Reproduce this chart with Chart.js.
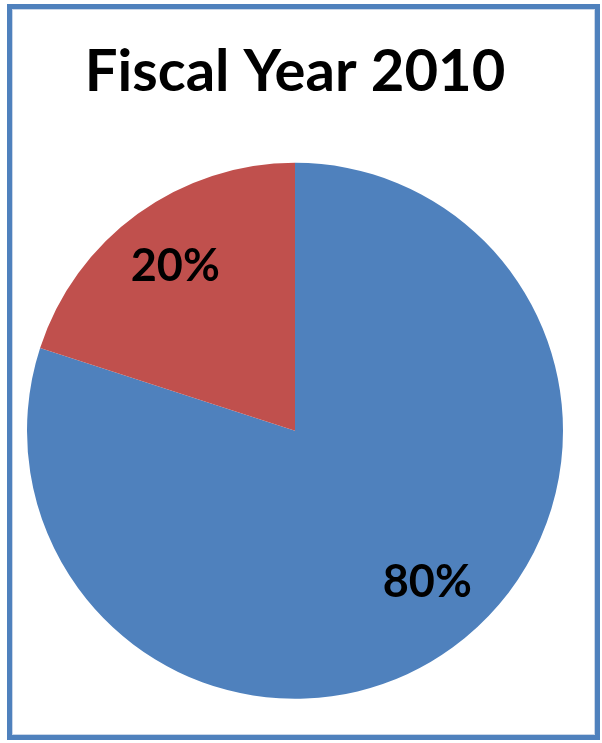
<!DOCTYPE html>
<html>
<head>
<meta charset="utf-8">
<script src="https://cdn.jsdelivr.net/npm/chart.js@4/dist/chart.umd.min.js"></script>
<style>
  html, body { margin: 0; padding: 0; background: #ffffff; }
  #wrap { position: relative; width: 602px; height: 743px; }
  #frame { position: absolute; left: 7px; top: 4px; width: 583px; height: 726px; border: 5px solid #4F81BD; box-shadow: inset 0 0 0 1px #c9d6e8; pointer-events: none; }
  canvas { position: absolute; left: 0; top: 0; }
</style>
</head>
<body>
<div id="wrap">
  <canvas id="c" width="602" height="743"></canvas>
  <div id="frame"></div>
</div>
<script>
const titleText = "Fiscal Year 2010";
const categories = ["Share A", "Share B"];
const values = [80, 20];
const sliceColors = ["#4F81BD", "#C0504D"];

// label placement tweaks (styling only): radial factor and angle shift in radians
const labelRadius = [0.75, 0.76];
const labelAngleShift = [-0.09, 0.0];

const pctLabels = {
  id: "pctLabels",
  afterDatasetsDraw(chart) {
    const ctx = chart.ctx;
    const meta = chart.getDatasetMeta(0);
    const data = chart.data.datasets[0].data;
    const total = data.reduce((a, b) => a + b, 0);
    ctx.save();
    ctx.font = "bold 45px Lato, 'Open Sans', sans-serif";
    ctx.fillStyle = "#000000";
    ctx.textAlign = "center";
    ctx.textBaseline = "middle";
    meta.data.forEach((arc, i) => {
      const p = arc.getProps(["x", "y", "startAngle", "endAngle", "outerRadius"], true);
      const mid = (p.startAngle + p.endAngle) / 2 + labelAngleShift[i];
      const r = p.outerRadius * labelRadius[i];
      const x = p.x + Math.cos(mid) * r;
      const y = p.y + Math.sin(mid) * r;
      ctx.fillText(Math.round(data[i] / total * 100) + "%", x, y);
    });
    ctx.restore();
  }
};

new Chart(document.getElementById("c"), {
  type: "pie",
  data: {
    labels: categories,
    datasets: [{
      data: values,
      backgroundColor: sliceColors,
      borderWidth: 0
    }]
  },
  options: {
    responsive: false,
    animation: false,
    devicePixelRatio: 1,
    layout: { padding: { top: 0, left: 27, right: 39, bottom: 44 } },
    plugins: {
      legend: { display: false },
      tooltip: { enabled: false },
      title: {
        display: true,
        text: titleText,
        color: "#000000",
        font: { family: "Lato, 'Open Sans', sans-serif", size: 58, weight: "bold", lineHeight: 1.2 },
        padding: { top: 37, bottom: 56 }
      }
    }
  },
  plugins: [pctLabels]
});
</script>
</body>
</html>
